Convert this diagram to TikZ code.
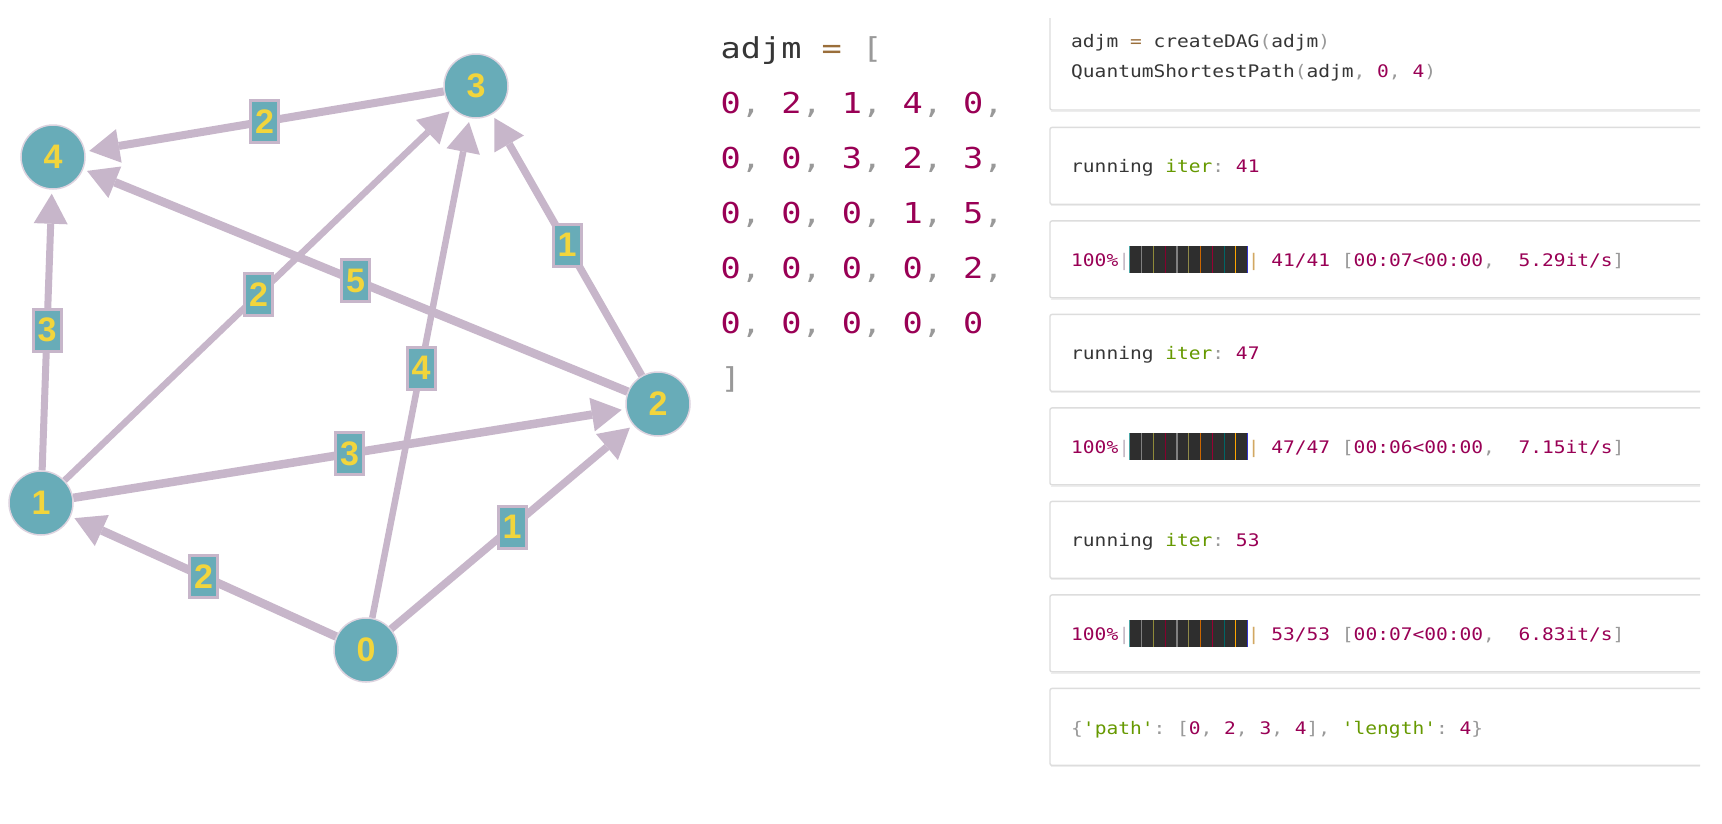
\documentclass[tikz,border=0pt]{standalone}
\usepackage{fontspec}
\usepackage{graphicx}
\usetikzlibrary{arrows.meta,calc}

\newfontfamily\codefont{DejaVu Sans Mono}
\newfontfamily\graphfont{Liberation Sans}

\definecolor{nodeteal}{HTML}{68ACB8}
\definecolor{edgemauve}{HTML}{C7B6CA}
\definecolor{labelyellow}{HTML}{F2D53C}
\definecolor{numcol}{HTML}{990055}
\definecolor{strcol}{HTML}{669900}
\definecolor{punctcol}{HTML}{999999}
\definecolor{opcol}{HTML}{9A6E3A}
\definecolor{plaincol}{HTML}{363636}
\definecolor{cellborder}{HTML}{DDDDDD}
\definecolor{cellshadow}{HTML}{EDEDED}
\definecolor{bardark}{HTML}{2E2E2E}
\definecolor{pipeopen}{HTML}{C4B8C4}
\definecolor{pipeclose}{HTML}{D2A862}

% syntax colouring helpers
\newcommand\tnum[1]{\textcolor{numcol}{#1}}
\newcommand\tstr[1]{\textcolor{strcol}{#1}}
\newcommand\tpun[1]{\textcolor{punctcol}{#1}}
\newcommand\topr[1]{\textcolor{opcol}{#1}}
% the notebook's monospace is set a little wider than DejaVu Sans Mono
\newcommand\outwide[1]{\scalebox{1.13}[1]{#1}}
\newcommand\matwide[1]{\scalebox{1.165}[1]{#1}}

% tqdm style progress bar, #1 = vertical centre
\newcommand\progbar[1]{%
  \fill[bardark] (1129.9,#1-13.3) rectangle (1247.6,#1+13.3);
  \foreach \c [count=\i from 0] in {teal!70!white, gray, olive!60!gray, purple!70!black,
      gray, olive!50!gray, orange!80!black, purple!80!black, teal!80!black, orange!70!yellow, blue!60!gray}
    \draw[\c, line width=1.1pt] (1129.9+\i*11.77,#1-13.3) -- ++(0,26.6);
}

\begin{document}
\frenchspacing
\begin{tikzpicture}[x=1pt,y=-1pt,
  vertex/.style={circle, fill=nodeteal, draw=edgemauve!60!white, line width=1.5pt,
    minimum size=64pt, inner sep=0pt, text=labelyellow,
    font=\graphfont\bfseries\fontsize{34}{34}\selectfont},
  weight/.style={rectangle, fill=nodeteal, draw=edgemauve, line width=3pt,
    minimum width=28pt, minimum height=42pt, inner sep=0pt, text=labelyellow,
    font=\graphfont\bfseries\fontsize{34}{34}\selectfont},
  link/.style={draw=edgemauve, shorten >=4pt,
    -{Triangle[width=34pt,length=30pt,line width=0pt]}},
  outline/.style={anchor=base west, inner sep=0pt, text=plaincol,
    font=\codefont\fontsize{17.3}{17.3}\selectfont},
  matline/.style={anchor=base west, inner sep=0pt, text=plaincol,
    font=\codefont\fontsize{28.8}{28.8}\selectfont},
  cell/.style={draw=cellborder, line width=1.4pt, rounded corners=2pt}
]
\fill[white] (0,0) rectangle (1722,823);
\useasboundingbox (0,0) rectangle (1722,823);

% ---------------- graph ----------------
\node[vertex] (n0) at (366,650) {0};
\node[vertex] (n1) at (41,503) {1};
\node[vertex] (n2) at (658,404) {2};
\node[vertex] (n3) at (476,86) {3};
\node[vertex] (n4) at (53,157) {4};

\foreach \a/\b/\w in {0/1/8.5, 0/2/7.5, 0/3/6.5, 1/2/8.5, 1/3/6.5, 1/4/7, 2/3/7.5, 2/4/8.5, 3/4/8}
  \draw[link, line width=\w pt] (n\a) -- (n\b);

\foreach \a/\b/\v in {0/1/2, 0/2/1, 0/3/4, 1/2/3, 1/3/2, 1/4/3, 2/3/1, 2/4/5, 3/4/2}
  \node[weight] (w\a\b) at ($(n\a)!0.5!(n\b)$) {\v};

% ---------------- adjacency matrix ----------------
\node[matline] (mhead) at (720.5,58) {\matwide{adjm \topr{=} \tpun{[}}};
\node[matline] (mrow0) at (720.5,113.5) {\matwide{\tnum{0}\tpun{,} \tnum{2}\tpun{,} \tnum{1}\tpun{,} \tnum{4}\tpun{,} \tnum{0}\tpun{,}}};
\node[matline] (mrow1) at (720.5,168.4) {\matwide{\tnum{0}\tpun{,} \tnum{0}\tpun{,} \tnum{3}\tpun{,} \tnum{2}\tpun{,} \tnum{3}\tpun{,}}};
\node[matline] (mrow2) at (720.5,223.3) {\matwide{\tnum{0}\tpun{,} \tnum{0}\tpun{,} \tnum{0}\tpun{,} \tnum{1}\tpun{,} \tnum{5}\tpun{,}}};
\node[matline] (mrow3) at (720.5,278.2) {\matwide{\tnum{0}\tpun{,} \tnum{0}\tpun{,} \tnum{0}\tpun{,} \tnum{0}\tpun{,} \tnum{2}\tpun{,}}};
\node[matline] (mrow4) at (720.5,333.1) {\matwide{\tnum{0}\tpun{,} \tnum{0}\tpun{,} \tnum{0}\tpun{,} \tnum{0}\tpun{,} \tnum{0}}};
\node[matline] (mtail) at (720.5,388) {\matwide{\tpun{]}}};

% ---------------- notebook cells ----------------
% input cell (top edge scrolled out of view)
\draw[cell] (1050,18) -- (1050,110) -- (1700,110);
\draw[cellshadow, line width=1pt] (1051,111.5) -- (1700,111.5);
\foreach \k in {0,...,6} {
  \pgfmathsetmacro\top{127.4+\k*93.5}
  \draw[cell] (1700,\top) -- (1050,\top) -- (1050,\top+77) -- (1700,\top+77);
  \draw[cellshadow, line width=1pt] (1051,\top+78.5) -- (1700,\top+78.5);
}

\node[outline] (in1) at (1071,47.5) {\outwide{adjm \topr{=} createDAG\tpun{(}adjm\tpun{)}}};
\node[outline] (in2) at (1071,77) {\outwide{QuantumShortestPath\tpun{(}adjm\tpun{,} \tnum{0}\tpun{,} \tnum{4}\tpun{)}}};

\node[outline] (run1) at (1071,172.9) {\outwide{running \tstr{iter}\tpun{:} \tnum{41}}};

\node[outline] (bar1a) at (1071,266.4) {\outwide{\tnum{100\%}\textcolor{pipeopen}{|}}};
\progbar{259.4}
\node[outline] (bar1b) at (1247.6,266.4) {\outwide{\textcolor{pipeclose}{|} \tnum{41/41} \tpun{[}\tnum{00:07<00:00}\tpun{,}\ \ \tnum{5.29it/s}\tpun{]}}};

\node[outline] (run2) at (1071,359.9) {\outwide{running \tstr{iter}\tpun{:} \tnum{47}}};

\node[outline] (bar2a) at (1071,453.4) {\outwide{\tnum{100\%}\textcolor{pipeopen}{|}}};
\progbar{446.4}
\node[outline] (bar2b) at (1247.6,453.4) {\outwide{\textcolor{pipeclose}{|} \tnum{47/47} \tpun{[}\tnum{00:06<00:00}\tpun{,}\ \ \tnum{7.15it/s}\tpun{]}}};

\node[outline] (run3) at (1071,546.9) {\outwide{running \tstr{iter}\tpun{:} \tnum{53}}};

\node[outline] (bar3a) at (1071,640.4) {\outwide{\tnum{100\%}\textcolor{pipeopen}{|}}};
\progbar{633.4}
\node[outline] (bar3b) at (1247.6,640.4) {\outwide{\textcolor{pipeclose}{|} \tnum{53/53} \tpun{[}\tnum{00:07<00:00}\tpun{,}\ \ \tnum{6.83it/s}\tpun{]}}};

\node[outline] (result) at (1071,734) {\outwide{\tpun{\{}\tstr{'path'}\tpun{:} \tpun{[}\tnum{0}\tpun{,} \tnum{2}\tpun{,} \tnum{3}\tpun{,} \tnum{4}\tpun{],} \tstr{'length'}\tpun{:} \tnum{4}\tpun{\}}}};
\end{tikzpicture}
\end{document}
